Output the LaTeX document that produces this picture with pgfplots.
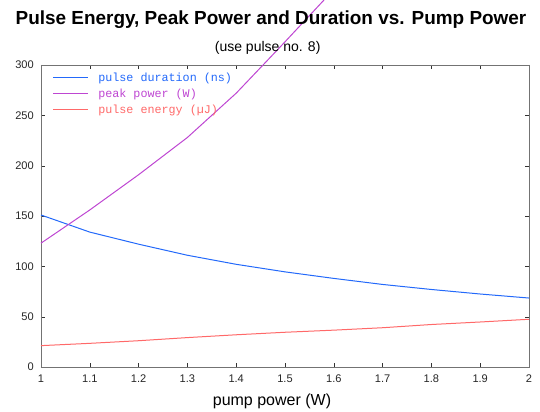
\documentclass[border=0pt]{standalone}
\usepackage{pgfplots}
\pgfplotsset{compat=1.18}
\usepackage{fontspec}
\setmainfont{Liberation Sans}
\newfontfamily\legendfont{Liberation Mono}

\definecolor{durblue}{RGB}{35,105,250}
\definecolor{peakpurple}{RGB}{190,70,210}
\definecolor{energyred}{RGB}{255,105,105}
\definecolor{framegray}{RGB}{115,115,115}

\begin{document}
\begin{tikzpicture}
\begin{axis}[
    scale only axis,
    width=366pt, height=226.5pt,
    xmin=1, xmax=2, ymin=0, ymax=300,
    xtick={1,1.1,...,2.01},
    ytick={0,50,...,300},
    clip=false,
    axis line style={framegray},
    tick align=inside,
    major tick length=3pt,
    tick style={black!80},
    /pgf/number format/assume math mode=true,
    ticklabel style={font=\fontsize{8.3}{10}\selectfont, text=black!85},
    xticklabel style={anchor=base, inner sep=0pt, yshift=-12pt},
    yticklabel style={anchor=east, inner sep=0pt, xshift=-5.25pt},
]
    % pulse duration (ns)
    \addplot[color=durblue, line width=0.75pt] coordinates {
        (1.0, 151) (1.1, 134) (1.2, 122) (1.3, 111) (1.4, 102)
        (1.5, 94.5) (1.6, 88) (1.7, 82) (1.8, 77) (1.9, 72.5) (2.0, 68.5)
    };

    % peak power (W), runs off the top of the picture
    \addplot[color=peakpurple, line width=0.75pt] coordinates {
        (1.0, 123) (1.1, 156) (1.2, 191) (1.3, 228) (1.4, 272)
        (1.455, 300) (1.5, 323) (1.6, 375)
    };

    % pulse energy (uJ)
    \addplot[color=energyred, line width=0.75pt] coordinates {
        (1.0, 21.2) (1.1, 23.5) (1.2, 26.1) (1.3, 29.2) (1.4, 32.0)
        (1.5, 34.5) (1.6, 36.6) (1.7, 39.0) (1.8, 42.2) (1.9, 44.7) (2.0, 47.4)
    };

    % legend key lines
    \addplot[color=durblue, line width=0.75pt, forget plot] coordinates {(1.0246, 287.1) (1.0963, 287.1)};
    \addplot[color=peakpurple, line width=0.75pt, forget plot] coordinates {(1.0246, 271.2) (1.0963, 271.2)};
    \addplot[color=energyred, line width=0.75pt, forget plot] coordinates {(1.0246, 255.3) (1.0963, 255.3)};

    \begin{scope}[every node/.style={anchor=base west, inner sep=0pt,
            font=\legendfont\fontsize{8.8}{10}\selectfont}]
        \node[text=durblue]    at (axis description cs:0.1168,0.946) {pulse duration (ns)};
        \node[text=peakpurple] at (axis description cs:0.1168,0.893) {peak power (W)};
        \node[text=energyred]  at (axis description cs:0.1168,0.840) {pulse energy (µJ)};
    \end{scope}

    \node[anchor=base, font=\bfseries\fontsize{14.2}{17}\selectfont]
        at (rel axis cs:0.5,1) [yshift=30pt, xshift=-10.5pt] {Pulse Energy, Peak Power and Duration vs. Pump Power};
    \node[anchor=base, font=\fontsize{10.5}{12}\selectfont]
        at (rel axis cs:0.5,1) [yshift=10pt, xshift=-13pt] {(use pulse no. 8)};
    \node[anchor=base, font=\fontsize{12}{14}\selectfont]
        at (rel axis cs:0.5,0) [yshift=-29.25pt, xshift=-9.75pt] {pump power (W)};

    \coordinate (sw) at (rel axis cs:0,0);
    \coordinate (ne) at (rel axis cs:1,1);
\end{axis}
\pgfresetboundingbox
\path[use as bounding box] ([xshift=-30.75pt,yshift=-33.75pt]sw) rectangle ([xshift=8.25pt,yshift=48.75pt]ne);
\end{tikzpicture}
\end{document}
